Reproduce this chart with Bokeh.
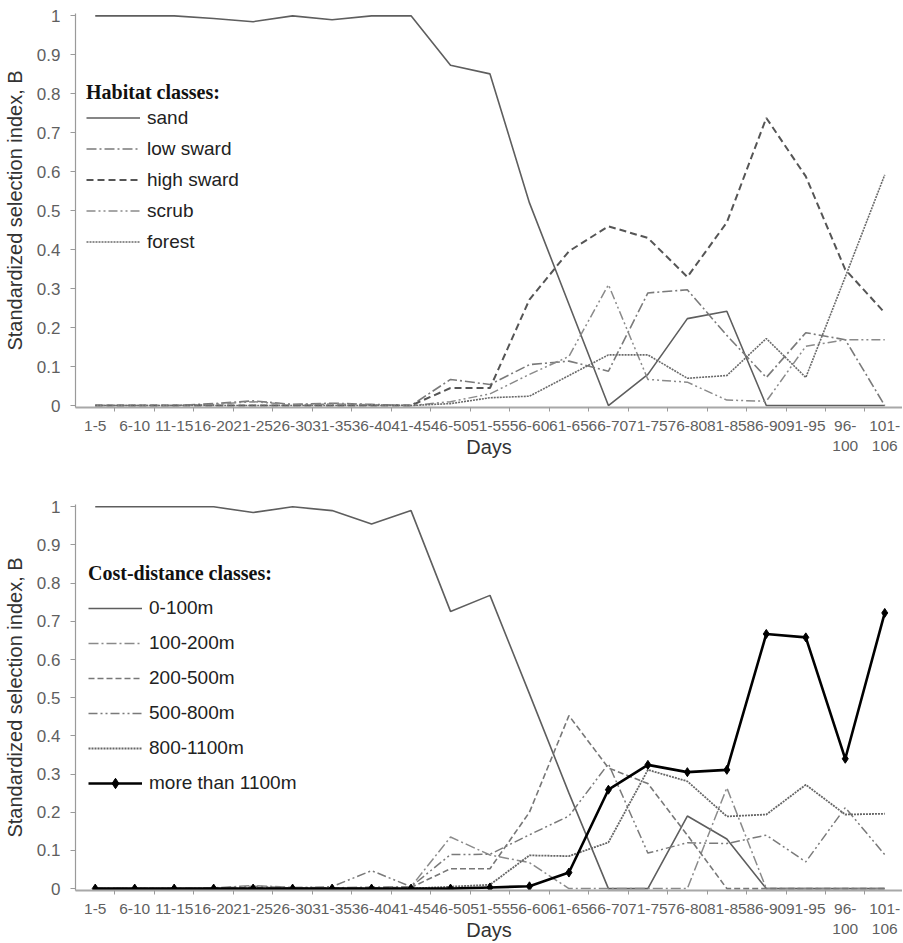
from bokeh.plotting import figure
from bokeh.models import FixedTicker, Range1d
from bokeh.layouts import column
from bokeh.embed import file_html
from bokeh.resources import INLINE

# ---------------- data ----------------
days = ["1-5", "6-10", "11-15", "16-20", "21-25", "26-30", "31-35", "36-40", "41-45",
        "46-50", "51-55", "56-60", "61-65", "66-70", "71-75", "76-80", "81-85",
        "86-90", "91-95", "96-100", "101-106"]
day_tick_labels = ["1-5", "6-10", "11-15", "16-20", "21-25", "26-30", "31-35", "36-40", "41-45",
                   "46-50", "51-55", "56-60", "61-65", "66-70", "71-75", "76-80", "81-85",
                   "86-90", "91-95", "96-\n100", "101-\n106"]
y_ticks = [0, 0.1, 0.2, 0.3, 0.4, 0.5, 0.6, 0.7, 0.8, 0.9, 1]

# Habitat classes
sand = [1, 1, 1, 0.993, 0.985, 1, 0.99, 1, 1, 0.873, 0.851, 0.52, 0.26, 0, 0.08, 0.223, 0.242, 0, 0, 0, 0]
low_sward = [0, 0, 0, 0.005, 0.012, 0.003, 0.006, 0.003, 0, 0.067, 0.054, 0.105, 0.114, 0.088, 0.289, 0.297, 0.18, 0.072, 0.187, 0.169, 0]
high_sward = [0, 0, 0, 0, 0, 0, 0, 0, 0, 0.045, 0.045, 0.272, 0.396, 0.46, 0.43, 0.33, 0.47, 0.738, 0.588, 0.349, 0.238]
scrub = [0, 0, 0, 0.003, 0.01, 0.002, 0.004, 0.002, 0, 0.01, 0.03, 0.08, 0.126, 0.31, 0.067, 0.06, 0.014, 0.011, 0.152, 0.169, 0.169]
forest = [0, 0, 0, 0, 0, 0, 0, 0, 0, 0.005, 0.02, 0.024, 0.077, 0.13, 0.13, 0.07, 0.077, 0.172, 0.072, 0.33, 0.592]

# Cost-distance classes
cd_0_100 = [1, 1, 1, 1, 0.985, 1, 0.99, 0.955, 0.99, 0.726, 0.768, 0.51, 0.25, 0, 0, 0.19, 0.13, 0, 0, 0, 0]
cd_100_200 = [0, 0, 0, 0.002, 0.008, 0.003, 0.002, 0.004, 0.005, 0.135, 0.088, 0.068, 0, 0, 0, 0, 0.264, 0, 0, 0, 0]
cd_200_500 = [0, 0, 0, 0, 0.003, 0.002, 0, 0.002, 0.003, 0.052, 0.052, 0.2, 0.453, 0.316, 0.275, 0.14, 0, 0, 0, 0, 0]
cd_500_800 = [0, 0, 0, 0, 0.006, 0.002, 0.005, 0.047, 0.005, 0.089, 0.09, 0.141, 0.19, 0.327, 0.093, 0.12, 0.118, 0.14, 0.07, 0.212, 0.089]
cd_800_1100 = [0, 0, 0, 0, 0, 0, 0, 0, 0, 0.005, 0.01, 0.087, 0.085, 0.121, 0.311, 0.281, 0.189, 0.194, 0.272, 0.194, 0.196]
cd_1100_plus = [0, 0, 0, 0, 0, 0, 0, 0, 0, 0, 0.003, 0.006, 0.042, 0.259, 0.324, 0.305, 0.311, 0.667, 0.658, 0.34, 0.722]

habitat_names = ["sand", "low sward", "high sward", "scrub", "forest"]
cost_names = ["0-100m", "100-200m", "200-500m", "500-800m", "800-1100m", "more than 1100m"]

SANS = "Liberation Sans"
SERIF = "Liberation Serif"
x_idx = list(range(len(days)))


def make_fig(frame_h, top_border, bottom_border):
    p = figure(output_backend="svg", toolbar_location=None,
               frame_width=827, frame_height=frame_h,
               x_range=Range1d(-0.5, len(days) - 0.55),
               y_range=Range1d(-0.005, 1.006),
               min_border_left=68, min_border_right=0,
               min_border_top=top_border, min_border_bottom=bottom_border)
    p.outline_line_color = None
    p.grid.visible = False
    p.background_fill_color = "white"
    p.border_fill_color = "white"

    xa = p.xaxis[0]
    xa.ticker = FixedTicker(ticks=x_idx, minor_ticks=[i + 0.5 for i in x_idx[:-1]])
    xa.major_label_overrides = {i: lab for i, lab in zip(x_idx, day_tick_labels)}
    xa.major_tick_line_color = None
    xa.minor_tick_line_color = "#9a9a9a"
    xa.minor_tick_in = 0
    xa.minor_tick_out = 4
    xa.axis_line_color = "#a8a8a8"
    xa.axis_line_width = 2
    xa.major_label_text_font = SANS
    xa.major_label_text_font_size = "15.5px"
    xa.major_label_text_color = "#5f5f5f"
    xa.major_label_standoff = 3
    xa.axis_label = "Days"
    xa.axis_label_text_font = SANS
    xa.axis_label_text_font_size = "20px"
    xa.axis_label_text_font_style = "normal"
    xa.axis_label_text_color = "#333333"
    xa.axis_label_standoff = -21

    ya = p.yaxis[0]
    ya.ticker = FixedTicker(ticks=y_ticks)
    ya.major_label_overrides = {0: "0", 1: "1"}
    ya.major_tick_line_color = "#9a9a9a"
    ya.major_tick_in = 0
    ya.major_tick_out = 5
    ya.minor_tick_line_color = None
    ya.axis_line_color = "#9a9a9a"
    ya.axis_line_width = 1.2
    ya.major_label_text_font = SANS
    ya.major_label_text_font_size = "17px"
    ya.major_label_text_color = "#5f5f5f"
    ya.major_label_standoff = 10
    ya.axis_label = "Standardized selection index, B"
    ya.axis_label_text_font = SANS
    ya.axis_label_text_font_size = "20px"
    ya.axis_label_text_font_style = "normal"
    ya.axis_label_text_color = "#333333"
    ya.axis_label_standoff = 8
    return p


def style_legend(p, title, loc, glyph_h, spacing, standoff):
    lg = p.legend[0]
    lg.title = title
    lg.title_text_font = SERIF
    lg.title_text_font_style = "bold"
    lg.title_text_font_size = "20px"
    lg.title_text_color = "#111111"
    lg.title_standoff = standoff
    lg.location = loc
    lg.background_fill_alpha = 0
    lg.border_line_color = None
    lg.padding = 4
    lg.margin = 0
    lg.glyph_width = 54
    lg.glyph_height = glyph_h
    lg.label_height = glyph_h
    lg.spacing = spacing
    lg.label_standoff = 7
    lg.label_text_font = SANS
    lg.label_text_font_size = "19px"
    lg.label_text_color = "#222222"
    lg.label_text_baseline = "middle"


# ---------------- top panel ----------------
p1 = make_fig(394, 13, 62)
hab_series = [sand, low_sward, high_sward, scrub, forest]
hab_styles = [("solid", "#5e5e5e", 1.6),
              ("10 3 2 3", "#7a7a7a", 1.6),
              ("7 4", "#555555", 2.0),
              ("9 3 2 3 2 3", "#8a8a8a", 1.5),
              ("2 1", "#6a6a6a", 1.6)]
for name, ys, (dash, col, w) in zip(habitat_names, hab_series, hab_styles):
    p1.line(x_idx, ys, line_color=col, line_width=w, line_dash=dash, legend_label=name)
style_legend(p1, "Habitat classes:", (11, 154), 23, 8, 2)

# ---------------- bottom panel ----------------
p2 = make_fig(386, 35, 50)
cost_series = [cd_0_100, cd_100_200, cd_200_500, cd_500_800, cd_800_1100]
cost_styles = [("solid", "#5e5e5e", 1.6),
               ("10 3 2 3", "#8a8a8a", 1.5),
               ("6 3", "#777777", 1.6),
               ("9 3 2 3 2 3", "#7a7a7a", 1.5),
               ("2 1", "#666666", 1.8)]
for name, ys, (dash, col, w) in zip(cost_names[:5], cost_series, cost_styles):
    p2.line(x_idx, ys, line_color=col, line_width=w, line_dash=dash, legend_label=name)
p2.line(x_idx, cd_1100_plus, line_color="#000000", line_width=2.6, legend_label=cost_names[5])
p2.scatter(x_idx, cd_1100_plus, marker="diamond", size=9, fill_color="#000000",
           line_color="#000000", legend_label=cost_names[5])
style_legend(p2, "Cost-distance classes:", (13, 94), 26, 9, 10)

layout = column(p1, p2, spacing=0)
open("out.html", "w").write(file_html(layout, INLINE))
